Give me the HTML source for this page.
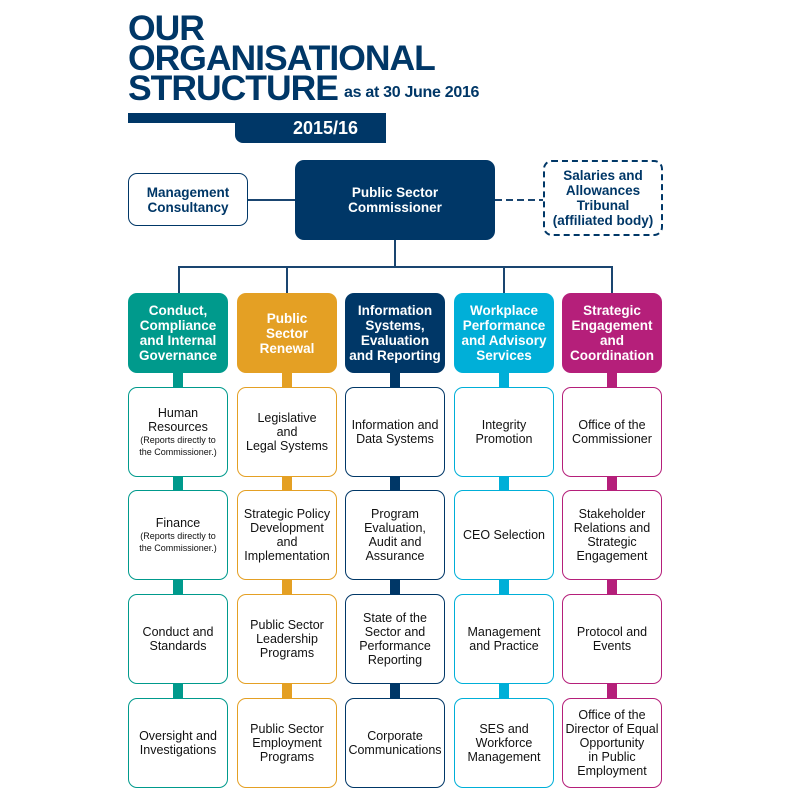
<!DOCTYPE html>
<html><head><meta charset="utf-8"><style>
*{margin:0;padding:0;box-sizing:border-box}
body{width:800px;height:800px;background:#fff;position:relative;font-family:"Liberation Sans",sans-serif;overflow:hidden}
.a{position:absolute}
.t{font-weight:bold;color:#003767;font-size:35.5px;line-height:30px;letter-spacing:-1px}
.box{position:absolute;display:flex;align-items:center;justify-content:center;text-align:center;border-radius:9px}
.h{width:100px;height:80px;color:#fff;font-weight:bold;font-size:13.5px;line-height:15px}
.s{width:100px;background:#fff;border:1.8px solid;font-size:12.5px;line-height:14px;color:#111;flex-direction:column}
.s small{font-size:9px;line-height:12px;display:block}
.st{position:absolute;width:10px}
.ln{position:absolute;background:#1a4570}
</style></head><body>
<div class="a t" style="left:128px;top:13px">OUR</div>
<div class="a t" style="left:128px;top:43px">ORGANISATIONAL</div>
<div class="a t" style="left:128px;top:73px">STRUCTURE</div>
<div class="a" style="left:344px;top:84px;font-weight:bold;color:#003767;font-size:16px;letter-spacing:-0.3px">as at 30 June 2016</div>
<div class="a" style="left:128px;top:113px;width:258px;height:10px;background:#003767"></div>
<div class="a" style="left:235px;top:113px;width:151px;height:30px;background:#003767;border-bottom-left-radius:8px;color:#fff;font-weight:bold;font-size:18px;text-align:center;padding-left:30px;line-height:31px">2015/16</div>

<div class="ln" style="left:248px;top:199px;width:47px;height:1.5px"></div>
<div class="a" style="left:495px;top:199px;width:48px;height:2px;background:repeating-linear-gradient(90deg,#1a4570 0 7px,transparent 7px 11px)"></div>
<div class="ln" style="left:394px;top:240px;width:1.5px;height:27px"></div>
<div class="ln" style="left:178px;top:266px;width:435px;height:1.5px"></div>
<div class="ln" style="left:178px;top:266px;width:1.5px;height:27px"></div>
<div class="ln" style="left:286px;top:266px;width:1.5px;height:27px"></div>
<div class="ln" style="left:503px;top:266px;width:1.5px;height:27px"></div>
<div class="ln" style="left:611px;top:266px;width:1.5px;height:27px"></div>

<div class="box" style="left:128px;top:173px;width:120px;height:53px;border:1.8px solid #003767;color:#003767;font-weight:bold;font-size:13.5px;line-height:15px">Management<br>Consultancy</div>
<div class="box" style="left:295px;top:160px;width:200px;height:80px;background:#003767;color:#fff;font-weight:bold;font-size:13.5px;line-height:15px">Public Sector<br>Commissioner</div>
<div class="box" style="left:543px;top:160px;width:120px;height:76px;border:2px dashed #003767;color:#003767;font-weight:bold;font-size:13.5px;line-height:15px">Salaries and<br>Allowances<br>Tribunal<br>(affiliated body)</div>

<div class="st" style="left:173px;top:370px;height:330px;background:#009a8c"></div>
<div class="st" style="left:282px;top:370px;height:330px;background:#e4a024"></div>
<div class="st" style="left:390px;top:370px;height:330px;background:#003767"></div>
<div class="st" style="left:499px;top:370px;height:330px;background:#00afd8"></div>
<div class="st" style="left:607px;top:370px;height:330px;background:#b51f7a"></div>

<div class="box h" style="left:128px;top:293px;background:#009a8c">Conduct,<br>Compliance<br>and Internal<br>Governance</div>
<div class="box h" style="left:237px;top:293px;background:#e4a024">Public<br>Sector<br>Renewal</div>
<div class="box h" style="left:345px;top:293px;background:#003767">Information<br>Systems,<br>Evaluation<br>and Reporting</div>
<div class="box h" style="left:454px;top:293px;background:#00afd8">Workplace<br>Performance<br>and Advisory<br>Services</div>
<div class="box h" style="left:562px;top:293px;background:#b51f7a">Strategic<br>Engagement<br>and<br>Coordination</div>

<div class="box s" style="left:128px;top:387px;height:90px;border-color:#009a8c"><div>Human<br>Resources<small>(Reports directly to<br>the Commissioner.)</small></div></div>
<div class="box s" style="left:128px;top:490px;height:90px;border-color:#009a8c"><div>Finance<small>(Reports directly to<br>the Commissioner.)</small></div></div>
<div class="box s" style="left:128px;top:594px;height:90px;border-color:#009a8c">Conduct and<br>Standards</div>
<div class="box s" style="left:128px;top:698px;height:90px;border-color:#009a8c">Oversight and<br>Investigations</div>

<div class="box s" style="left:237px;top:387px;height:90px;border-color:#e4a024">Legislative<br>and<br>Legal Systems</div>
<div class="box s" style="left:237px;top:490px;height:90px;border-color:#e4a024">Strategic Policy<br>Development<br>and<br>Implementation</div>
<div class="box s" style="left:237px;top:594px;height:90px;border-color:#e4a024">Public Sector<br>Leadership<br>Programs</div>
<div class="box s" style="left:237px;top:698px;height:90px;border-color:#e4a024">Public Sector<br>Employment<br>Programs</div>

<div class="box s" style="left:345px;top:387px;height:90px;border-color:#003767">Information and<br>Data Systems</div>
<div class="box s" style="left:345px;top:490px;height:90px;border-color:#003767">Program<br>Evaluation,<br>Audit and<br>Assurance</div>
<div class="box s" style="left:345px;top:594px;height:90px;border-color:#003767">State of the<br>Sector and<br>Performance<br>Reporting</div>
<div class="box s" style="left:345px;top:698px;height:90px;border-color:#003767">Corporate<br>Communications</div>

<div class="box s" style="left:454px;top:387px;height:90px;border-color:#00afd8">Integrity<br>Promotion</div>
<div class="box s" style="left:454px;top:490px;height:90px;border-color:#00afd8">CEO Selection</div>
<div class="box s" style="left:454px;top:594px;height:90px;border-color:#00afd8">Management<br>and Practice</div>
<div class="box s" style="left:454px;top:698px;height:90px;border-color:#00afd8">SES and<br>Workforce<br>Management</div>

<div class="box s" style="left:562px;top:387px;height:90px;border-color:#b51f7a">Office of the<br>Commissioner</div>
<div class="box s" style="left:562px;top:490px;height:90px;border-color:#b51f7a">Stakeholder<br>Relations and<br>Strategic<br>Engagement</div>
<div class="box s" style="left:562px;top:594px;height:90px;border-color:#b51f7a">Protocol and<br>Events</div>
<div class="box s" style="left:562px;top:698px;height:90px;border-color:#b51f7a">Office of the<br>Director of Equal<br>Opportunity<br>in Public<br>Employment</div>
</body></html>
